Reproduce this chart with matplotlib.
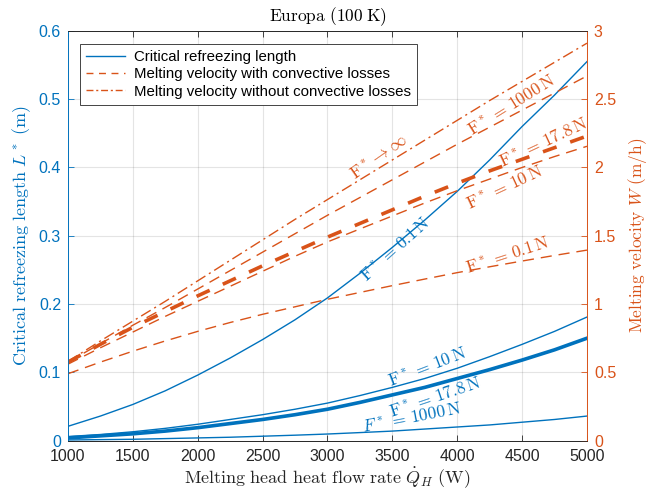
import matplotlib
matplotlib.use("Agg")
import matplotlib.pyplot as plt
from matplotlib.ticker import FuncFormatter
from matplotlib.lines import Line2D

# ---- data ----
Q = [1000, 1250, 1500, 1750, 2000, 2250, 2500, 2750, 3000,
     3250, 3500, 3750, 4000, 4250, 4500, 4750, 5000]

# Critical refreezing length L* (m)
L_01 = [0.021, 0.036, 0.053, 0.073, 0.096, 0.121, 0.148, 0.177, 0.209,
        0.245, 0.283, 0.323, 0.365, 0.411, 0.460, 0.506, 0.555]
L_10 = [0.006, 0.009, 0.013, 0.018, 0.024, 0.031, 0.038, 0.046, 0.055,
        0.066, 0.078, 0.091, 0.106, 0.123, 0.141, 0.160, 0.181]
L_178 = [0.004, 0.007, 0.010, 0.014, 0.019, 0.025, 0.031, 0.038, 0.046,
         0.056, 0.067, 0.078, 0.091, 0.104, 0.118, 0.133, 0.150]
L_1000 = [0.001, 0.0015, 0.002, 0.003, 0.004, 0.005, 0.0065, 0.008, 0.0097,
          0.0118, 0.014, 0.017, 0.020, 0.023, 0.027, 0.031, 0.036]

# Melting velocity W (m/h)
W_01 = [0.49, 0.575, 0.655, 0.73, 0.80, 0.865, 0.925, 0.98, 1.035,
        1.085, 1.135, 1.183, 1.23, 1.273, 1.315, 1.356, 1.395]
W_10 = [0.56, 0.68, 0.795, 0.91, 1.02, 1.13, 1.24, 1.35, 1.455,
        1.55, 1.645, 1.74, 1.83, 1.915, 2.00, 2.08, 2.155]
W_178 = [0.575, 0.705, 0.83, 0.945, 1.06, 1.17, 1.28, 1.385, 1.49,
         1.59, 1.69, 1.79, 1.885, 1.975, 2.06, 2.145, 2.23]
W_1000 = [0.575, 0.71, 0.845, 0.975, 1.11, 1.245, 1.38, 1.515, 1.65,
          1.78, 1.91, 2.04, 2.17, 2.295, 2.42, 2.545, 2.67]
W_inf = [0.58, 0.73, 0.875, 1.02, 1.17, 1.32, 1.47, 1.62, 1.765,
         1.91, 2.055, 2.20, 2.345, 2.49, 2.63, 2.77, 2.91]

xticks = [1000, 1500, 2000, 2500, 3000, 3500, 4000, 4500, 5000]
lticks = [0, 0.1, 0.2, 0.3, 0.4, 0.5, 0.6]
rticks = [0, 0.5, 1, 1.5, 2, 2.5, 3]

BLUE = (0, 0.447, 0.741)
ORANGE = (0.851, 0.325, 0.098)
DARK = (0.15, 0.15, 0.15)

plt.rcParams['mathtext.fontset'] = 'cm'
plt.rcParams['font.family'] = ['Liberation Sans', 'DejaVu Sans']

fig = plt.figure(figsize=(6.69, 4.94), dpi=100)
ax = fig.add_axes([0.1016, 0.108, 0.7758, 0.8295])
ax2 = ax.twinx()

# blue curves
ax.plot(Q, L_01, color=BLUE, lw=1.0)
ax.plot(Q, L_10, color=BLUE, lw=1.0)
ax.plot(Q, L_178, color=BLUE, lw=2.6)
ax.plot(Q, L_1000, color=BLUE, lw=1.0)

# orange curves
ax2.plot(Q, W_01, color=ORANGE, lw=1.0, dashes=(8, 5))
ax2.plot(Q, W_10, color=ORANGE, lw=1.0, dashes=(8, 5))
ax2.plot(Q, W_178, color=ORANGE, lw=2.6, dashes=(4, 4))
ax2.plot(Q, W_1000, color=ORANGE, lw=1.0, dashes=(8, 5))
ax2.plot(Q, W_inf, color=ORANGE, lw=1.0, dashes=(8, 3, 1.5, 3))

ax.set_xlim(1000, 5000)
ax.set_ylim(0, 0.6)
ax2.set_ylim(0, 3)
ax.set_xticks(xticks)
ax.set_yticks(lticks)
ax2.set_yticks(rticks)
fmt = FuncFormatter(lambda v, p: '%g' % v)
ax.yaxis.set_major_formatter(fmt)
ax2.yaxis.set_major_formatter(fmt)

ax.grid(True, color=(0.15, 0.15, 0.15), alpha=0.12, lw=0.8)
ax.set_axisbelow(True)

ax.tick_params(axis='x', direction='in', colors=DARK, labelsize=11.5, top=True,
               length=4, width=0.6, pad=6)
ax.tick_params(axis='y', direction='in', colors=BLUE, labelsize=11.5, length=4,
               width=0.6, pad=5)
ax2.tick_params(axis='y', direction='in', colors=ORANGE, labelsize=11.5, length=4,
                width=0.6, pad=5)

for a in (ax, ax2):
    a.spines['top'].set_color(DARK)
    a.spines['bottom'].set_color(DARK)
    a.spines['left'].set_color(BLUE)
    a.spines['right'].set_color(ORANGE)
    for s in a.spines.values():
        s.set_linewidth(0.6)

ax.set_xlabel(r'$\mathrm{Melting\ head\ heat\ flow\ rate}\ \dot{Q}_H\ \mathrm{(W)}$',
              fontsize=13, color=DARK, labelpad=1)
ax.set_ylabel(r'$\mathrm{Critical\ refreezing\ length}\ L^*\ \mathrm{(m)}$',
              fontsize=13, color=BLUE, labelpad=4)
ax2.set_ylabel(r'$\mathrm{Melting\ velocity}\ W\ \mathrm{(m/h)}$',
               fontsize=12.5, color=ORANGE, labelpad=7)
ax.set_title(r'$\mathrm{Europa\ (100\;K)}$', fontsize=12.5, color='black', pad=7)

# annotations
tk = dict(fontsize=12.5, ha='center', va='center', rotation_mode='anchor')
eq = r'\,=\,'
ax2.text(3397, 2.07, r'$\mathrm{F}^*\rightarrow\infty$', color=ORANGE, rotation=35, **tk)
ax2.text(4420, 2.45, r'$\mathrm{F}^*' + eq + r'1000\,\mathrm{N}$', color=ORANGE, rotation=32, **tk)
ax2.text(4661, 2.19, r'$\mathrm{F}^*' + eq + r'17.8\,\mathrm{N}$', color=ORANGE, rotation=25, **tk)
ax2.text(4368, 1.845, r'$\mathrm{F}^*' + eq + r'10\,\mathrm{N}$', color=ORANGE, rotation=25, **tk)
ax2.text(4391, 1.355, r'$\mathrm{F}^*' + eq + r'0.1\,\mathrm{N}$', color=ORANGE, rotation=18, **tk)

ax.text(3528, 0.279, r'$\mathrm{F}^*' + eq + r'0.1\,\mathrm{N}$', color=BLUE, rotation=42, **tk)
ax.text(3775, 0.107, r'$\mathrm{F}^*' + eq + r'10\,\mathrm{N}$', color=BLUE, rotation=21, **tk)
ax.text(3829, 0.0650, r'$\mathrm{F}^*' + eq + r'17.8\,\mathrm{N}$', color=BLUE, rotation=18.5, **tk)
ax.text(3651, 0.0317, r'$F^*' + eq + r'1000\,\mathrm{N}$', color=BLUE, rotation=11, **tk)

# legend
handles = [
    Line2D([], [], color=BLUE, lw=1.0),
    Line2D([], [], color=ORANGE, lw=1.0, dashes=(5, 4)),
    Line2D([], [], color=ORANGE, lw=1.0, dashes=(5, 2, 1.5, 2)),
]
labels = ['Critical refreezing length',
          'Melting velocity with convective losses',
          'Melting velocity without convective losses']
leg = ax2.legend(handles, labels, loc='upper left', bbox_to_anchor=(0.023, 0.968),
                 borderaxespad=0, fontsize=10.8, fancybox=False, framealpha=1,
                 edgecolor=DARK, handlelength=2.6, labelspacing=0.22,
                 borderpad=0.4, handletextpad=0.6)
leg.get_frame().set_linewidth(0.6)

fig.savefig('out.png', dpi=100)
